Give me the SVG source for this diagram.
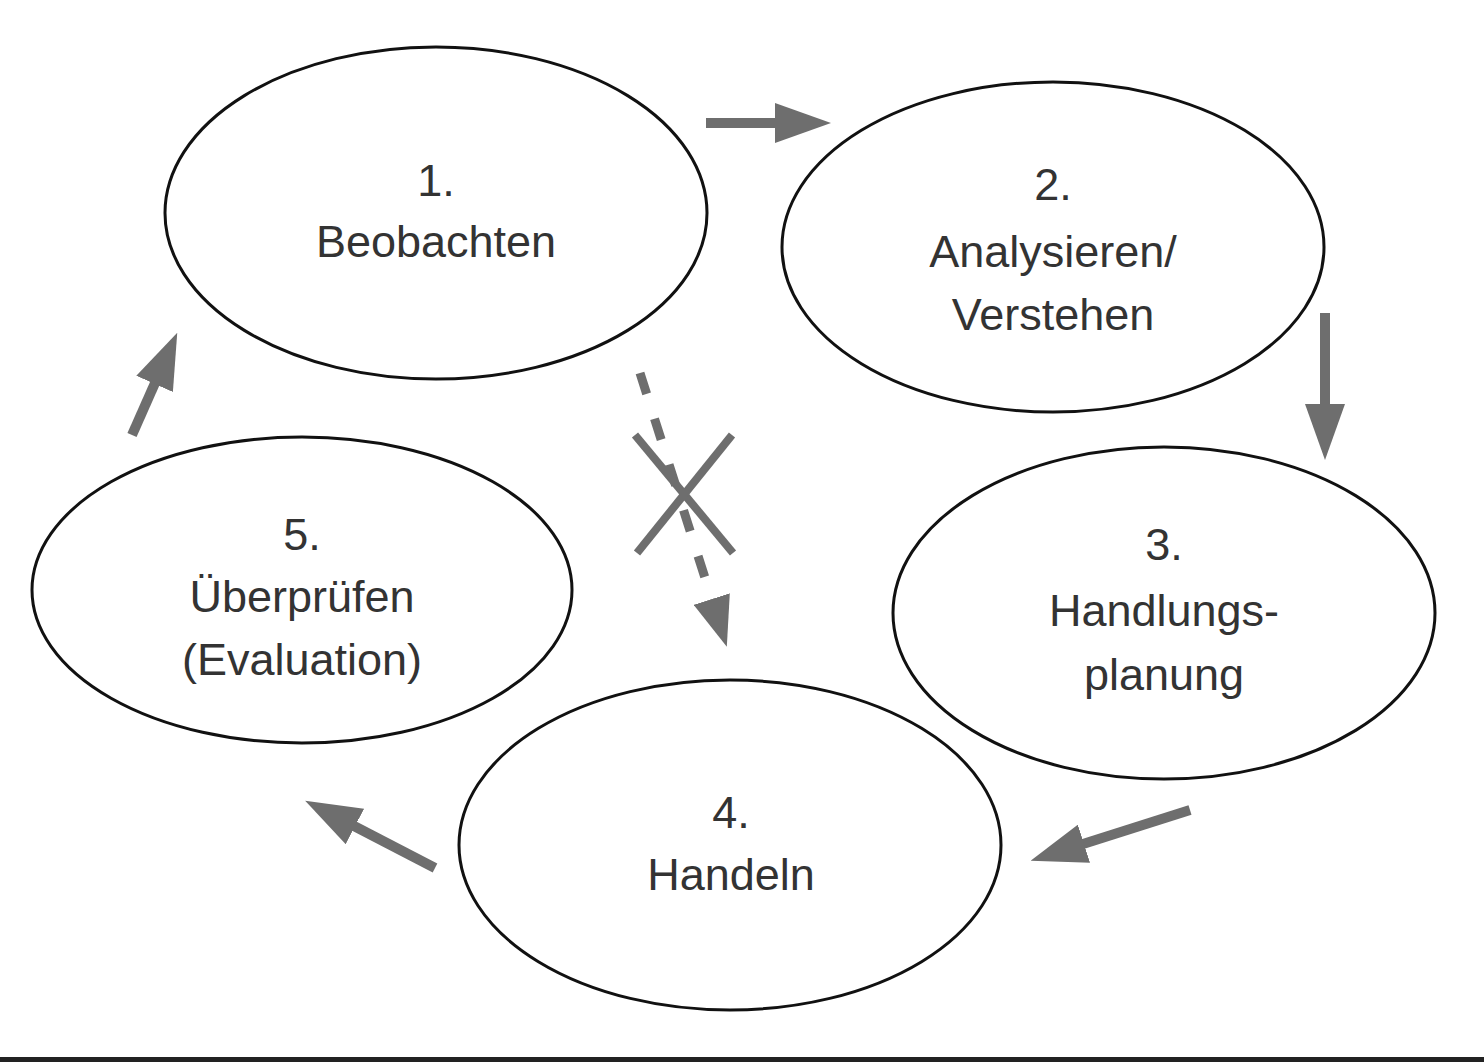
<svg xmlns="http://www.w3.org/2000/svg" width="1484" height="1062" viewBox="0 0 1484 1062">
<style>
.node ellipse{fill:#fff;stroke:#111;stroke-width:3}
.node text{font-family:"Liberation Sans",Arial,sans-serif;font-size:45px;fill:#333;text-anchor:middle}
.arr{stroke:#6e6e6e;stroke-width:10;fill:none;marker-end:url(#head)}
.dash{stroke:#6e6e6e;stroke-width:9;fill:none;stroke-dasharray:22 26;marker-end:url(#head2)}
.cross{stroke:#6e6e6e;stroke-width:8;fill:none}
</style>
<defs>
<marker id="head" markerUnits="userSpaceOnUse" markerWidth="56" markerHeight="40" viewBox="0 0 56 40" refX="1" refY="20" orient="auto">
<path d="M0,0 L56,20 L0,40 z" fill="#6e6e6e"/>
</marker>
<marker id="head2" markerUnits="userSpaceOnUse" markerWidth="50" markerHeight="38" viewBox="0 0 50 38" refX="1" refY="19" orient="auto">
<path d="M0,0 L50,19 L0,38 z" fill="#6e6e6e"/>
</marker>
</defs>
<rect x="0" y="0" width="1484" height="1062" fill="#fff"/>
<rect x="0" y="1057" width="1484" height="5" fill="#222"/>
<g id="connectors">
<line class="arr" x1="706" y1="123" x2="776" y2="123"/>
<line class="arr" x1="1325" y1="313" x2="1325" y2="405"/>
<line class="arr" x1="1190" y1="810" x2="1083" y2="844"/>
<line class="arr" x1="435" y1="868" x2="354" y2="826"/>
<line class="arr" x1="132" y1="435" x2="155" y2="383"/>
<line class="dash" x1="640" y1="373" x2="712" y2="600"/>
<line class="cross" x1="635" y1="435" x2="733" y2="553"/>
<line class="cross" x1="732" y1="435" x2="637" y2="553"/>
</g>
<g id="node1" class="node">
<ellipse cx="436" cy="213" rx="271" ry="166"/>
<text x="436" y="196">1.</text>
<text x="436" y="257">Beobachten</text>
</g>
<g id="node2" class="node">
<ellipse cx="1053" cy="247" rx="271" ry="165"/>
<text x="1053" y="200">2.</text>
<text x="1053" y="267">Analysieren/</text>
<text x="1053" y="330">Verstehen</text>
</g>
<g id="node3" class="node">
<ellipse cx="1164" cy="613" rx="271" ry="166"/>
<text x="1164" y="560">3.</text>
<text x="1164" y="626">Handlungs-</text>
<text x="1164" y="690">planung</text>
</g>
<g id="node4" class="node">
<ellipse cx="730" cy="845" rx="271" ry="165"/>
<text x="731" y="828">4.</text>
<text x="731" y="890">Handeln</text>
</g>
<g id="node5" class="node">
<ellipse cx="302" cy="590" rx="270" ry="153"/>
<text x="302" y="550">5.</text>
<text x="302" y="612">Überprüfen</text>
<text x="302" y="675">(Evaluation)</text>
</g>
</svg>
